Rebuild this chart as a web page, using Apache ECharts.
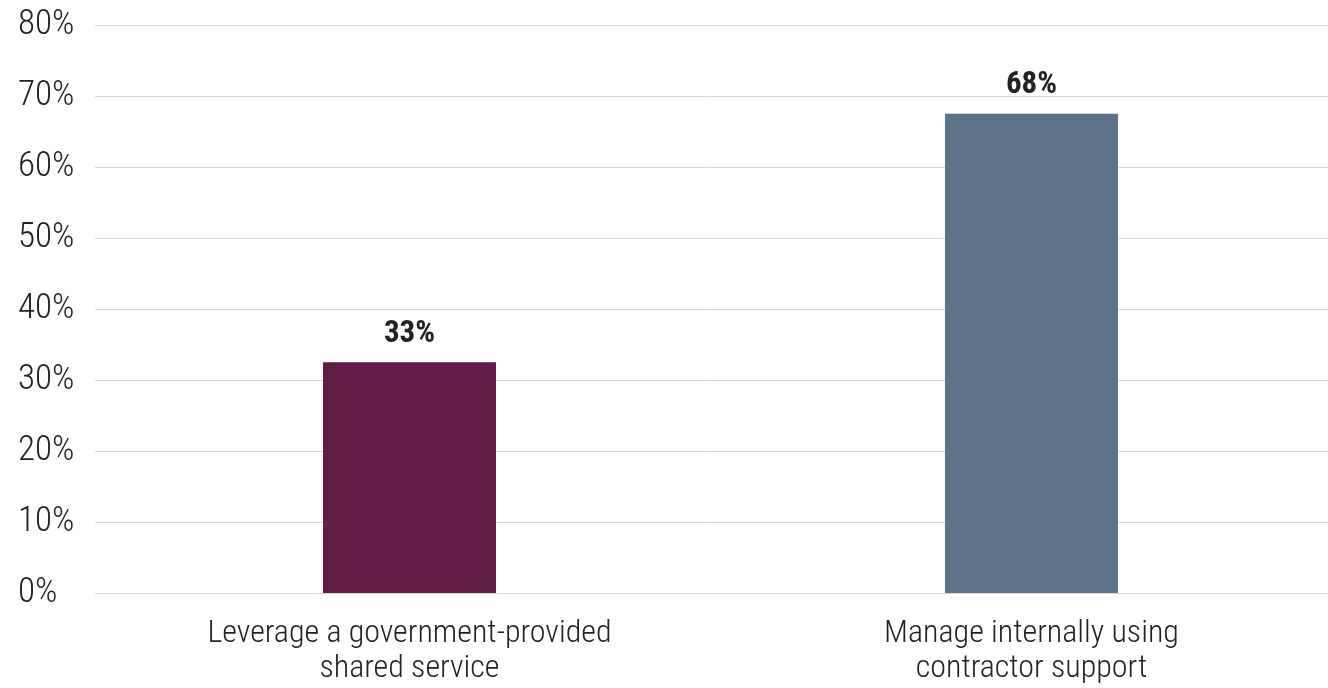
<!DOCTYPE html>
<html>
<head>
<meta charset="utf-8">
<script src="https://cdn.jsdelivr.net/npm/echarts@6/dist/echarts.min.js"></script>
<style>
  html, body { margin: 0; padding: 0; background: #ffffff; }
  #chart { width: 1328px; height: 688px; }
</style>
</head>
<body>
<div id="chart"></div>
<script>
// Survey responses: how the shared service is managed
const categories = ['Leverage a government-provided\nshared service', 'Manage internally using\ncontractor support'];
const shares = [32.5, 67.5];
const barColors = ['#621c48', '#5d7389'];
const yTicks = { min: 0, max: 80, interval: 10 };

const FONT = "'Roboto Condensed', 'Liberation Sans Narrow', 'DejaVu Sans Condensed', Roboto, sans-serif";

// Categories sit at positions 0, 1 on a numeric axis; the visible window
// is slightly wider on the right so the plot runs past the canvas edge.
const catPositions = categories.map((_, i) => i);
const xWindow = { min: -0.5056, max: 1.4767 };

const chart = echarts.init(document.getElementById('chart'));
chart.setOption({
  animation: false,
  grid: { left: 95, right: 0, top: 25, bottom: 95, containLabel: false },
  xAxis: {
    type: 'value',
    min: xWindow.min,
    max: xWindow.max,
    axisLine: { show: false },
    axisTick: { show: false },
    splitLine: { show: false },
    axisLabel: {
      customValues: catPositions,
      formatter: v => categories[Math.round(v)] || '',
      margin: 23,
      fontFamily: FONT,
      fontWeight: 300,
      fontSize: 32,
      lineHeight: 35,
      color: '#222222'
    }
  },
  yAxis: {
    type: 'value',
    min: yTicks.min,
    max: yTicks.max,
    interval: yTicks.interval,
    axisLine: { show: false },
    axisTick: { show: false },
    splitLine: { lineStyle: { color: '#d9d9d9', width: 1 } },
    axisLabel: {
      align: 'left',
      margin: 77,
      fontFamily: FONT,
      fontWeight: 300,
      fontSize: 35,
      color: '#222222',
      formatter: v => v + '%'
    }
  },
  series: [{
    type: 'bar',
    barWidth: 173,
    data: shares.map((v, i) => ({ value: [catPositions[i], v], itemStyle: { color: barColors[i] } })),
    label: {
      show: true,
      position: 'top',
      distance: 13,
      fontFamily: FONT,
      fontWeight: 'bold',
      fontSize: 31,
      color: '#222222',
      formatter: p => Math.round(p.value[1]) + '%'
    }
  }]
});
</script>
</body>
</html>
